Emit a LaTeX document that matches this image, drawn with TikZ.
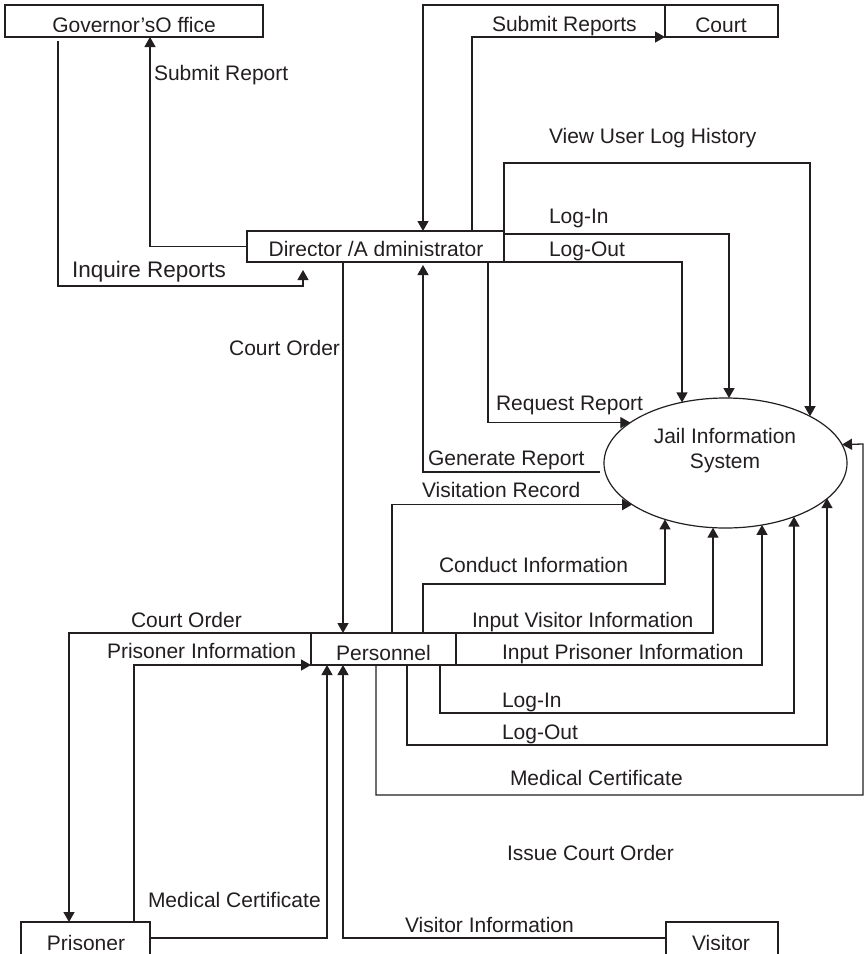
\documentclass[tikz,border=0pt]{standalone}
\usepackage{fontspec}
\setmainfont{Liberation Sans}
\usetikzlibrary{arrows.meta,shapes.geometric}
\definecolor{ink}{RGB}{35,31,32}
\tikzset{
  lbl/.style={inner sep=0pt, outer sep=0pt, text=ink, font=\fontsize{21pt}{25pt}\selectfont},
  tag/.style={lbl, anchor=base west},
  bigtag/.style={tag, font=\fontsize{22.5pt}{26pt}\selectfont},
  entity/.style={draw=ink, line width=1.2pt, inner sep=0pt, outer sep=0pt, rectangle},
  process/.style={draw=ink, line width=1.2pt, inner sep=0pt, outer sep=0pt, ellipse},
  flow/.style={draw=ink, line width=1.3pt},
  arr/.style={flow, -{Triangle[length=10pt,width=11pt]}},
}
% box caption whose lower part is cut off at a given height
\newcommand\boxcaption[5]{%
  \begin{scope}
    \clip (#2-130,#3-30) rectangle (#2+130,#4);
    \node[lbl, anchor=base] (#1) at (#2,#3) {#5};
  \end{scope}}
\begin{document}
\begin{tikzpicture}[x=1pt, y=-1pt]
\useasboundingbox (0,0) rectangle (864,954);
\fill[white] (0,0) rectangle (864,954);
\clip (0,0) rectangle (864,954);

% external entities
\node[entity, minimum width=258, minimum height=32] (gov) at (134,21) {};
\node[entity, minimum width=113, minimum height=32] (court) at (721.5,21) {};
\node[entity, minimum width=257, minimum height=31] (dir) at (375.5,246.5) {};
\node[entity, minimum width=145, minimum height=32] (pers) at (383.5,649) {};
\node[entity, minimum width=129, minimum height=36] (pris) at (85.5,940) {};
\node[entity, minimum width=112, minimum height=36] (vis) at (722,940) {};

\boxcaption{govtext}{134}{32}{31}{Governor’sO ffice}
\boxcaption{courttext}{721}{32}{31}{Court}
\boxcaption{dirtext}{376}{256.5}{255.5}{Director /A dministrator}
\boxcaption{perstext}{383.5}{660}{660}{Personnel}
\boxcaption{pristext}{86}{950}{949}{Prisoner}
\boxcaption{vistext}{721}{950}{949}{Visitor}

% the system process
\node[process, minimum width=243, minimum height=130] (jis) at (725.5,463) {};
\node[lbl, anchor=base] (jist1) at (725,443) {Jail Information};
\node[lbl, anchor=base] (jist2) at (725,468) {System};

% Director / Administrator flows
\draw[arr] (dir.west) -| (150,0 |- gov.south);
\draw[arr, shorten <=4pt, shorten >=8pt] (58,0 |- gov.south) |- (303,286) -- (303,0 |- dir.south);
\draw[arr] (court.north west) -| (423,0 |- dir.north);
\draw[arr] (472,0 |- dir.north) |- (court.south west);
\draw[arr] (dir.north east) |- (810,163) -- (810,0 |- jis.29);
\draw[arr] (dir.east |- 0,234) -| (729,0 |- jis.87);
\draw[arr] (dir.south east) -| (682,0 |- jis.126);
\draw[arr] (488,0 |- dir.south) |- (jis.157);
\coordinate (genstart) at (600,472);
\draw[arr, shorten >=3pt] (genstart) -| (423,0 |- dir.south);
\draw[arr] (343,0 |- dir.south) -- (343,0 |- pers.north);

% Personnel flows
\draw[arr] (392,0 |- pers.north) |- (jis.204);
\draw[arr] (423,0 |- pers.north) |- (665,584) -- (665,0 |- jis.223);
\draw[arr] (pers.north east) -| (713,0 |- jis.259);
\draw[arr] (pers.south east) -| (762,0 |- jis.301);
\draw[arr] (440,0 |- pers.south) |- (794,713) -- (794,0 |- jis.322);
\draw[arr] (407,0 |- pers.south) |- (827,745) -- (827,0 |- jis.341);
\draw[arr] (376,0 |- pers.south) |- (863,795) -- (863,444) -- (jis.9);
\draw[arr] (pers.north west) -| (69,0 |- pris.north);
\draw[arr] (134,0 |- pris.north) |- (pers.south west);
\draw[arr] (pris.east |- 0,938) -| (327,0 |- pers.south);
\draw[arr] (vis.west |- 0,938) -| (343,0 |- pers.south);

% flow labels
\node[tag] (l1) at (154,80) {Submit Report};
\node[bigtag] (l2) at (72,277) {Inquire Reports};
\node[tag] (l3) at (492,31) {Submit Reports};
\node[tag] (l4) at (549,143) {View User Log History};
\node[tag] (l5) at (549,223) {Log-In};
\node[tag] (l6) at (549,256) {Log-Out};
\node[lbl, anchor=base east] (l7) at (340,355) {Court Order};
\node[tag] (l8) at (496,410) {Request Report};
\node[tag] (l9) at (428,465) {Generate Report};
\node[tag] (l10) at (422,497) {Visitation Record};
\node[tag] (l11) at (439,572) {Conduct Information};
\node[tag] (l12) at (131,627) {Court Order};
\node[tag] (l13) at (472,627) {Input Visitor Information};
\node[tag] (l14) at (107,658) {Prisoner Information};
\node[tag] (l15) at (502,659) {Input Prisoner Information};
\node[tag] (l16) at (502,707) {Log-In};
\node[tag] (l17) at (502,739) {Log-Out};
\node[tag] (l18) at (510,785) {Medical Certificate};
\node[tag] (l19) at (507,860) {Issue Court Order};
\node[tag] (l20) at (148,907) {Medical Certificate};
\node[tag] (l21) at (405,932) {Visitor Information};
\end{tikzpicture}
\end{document}
